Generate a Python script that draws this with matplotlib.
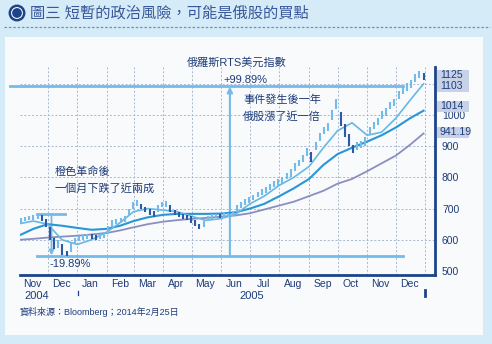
"""
RTS USD index chart, Nov 2004 - Dec 2005 (figure 3 recreation).
"""
import matplotlib
matplotlib.use("Agg")
import matplotlib.pyplot as plt
import matplotlib.patches as mpatches
import numpy as np
import pandas as pd

plt.rcParams["font.family"] = ["Liberation Sans", "Noto Sans CJK TC", "DejaVu Sans"]

# ── Data ──────────────────────────────────────────────────────────────────────
# price bars, 7 per month, Nov 2004 .. Dec 2005
bar_low = [655, 660, 662, 663, 668, 660, 640,
           600, 570, 575, 550, 547, 562, 585,
           595, 600, 604, 603, 598, 604, 607,
           620, 642, 652, 655, 658, 675, 700,
           708, 698, 688, 680, 672, 690, 705,
           706, 690, 678, 672, 668, 662, 655,
           645, 635, 642, 660, 668, 670, 669,
           671, 673, 676, 690, 703, 711, 719,
           726, 736, 742, 750, 760, 770, 772,
           778, 795, 800, 820, 835, 850, 868,
           850, 888, 918, 940, 948, 985, 1020,
           965, 930, 900, 878, 888, 893, 902,
           935, 955, 968, 988, 998, 1018, 1028,
           1052, 1068, 1078, 1088, 1106, 1120, 1112]
bar_high = [670, 672, 675, 678, 683, 680, 665,
            640, 605, 600, 585, 565, 590, 605,
            612, 615, 620, 617, 614, 620, 624,
            645, 662, 668, 670, 676, 698, 722,
            726, 716, 706, 700, 692, 712, 722,
            724, 710, 696, 690, 684, 680, 676,
            664, 652, 660, 675, 682, 684, 683,
            685, 687, 692, 710, 720, 730, 738,
            744, 754, 762, 770, 780, 790, 795,
            800, 815, 828, 845, 856, 872, 895,
            880, 912, 942, 962, 975, 1015, 1050,
            1010, 970, 940, 905, 912, 916, 928,
            962, 978, 992, 1012, 1022, 1042, 1052,
            1076, 1092, 1102, 1112, 1132, 1142, 1136]

# moving averages, sampled twice a month
ma_dates = ["2004-11-02", "2004-11-16", "2004-12-01", "2004-12-16",
            "2005-01-01", "2005-01-16", "2005-02-01", "2005-02-15",
            "2005-03-01", "2005-03-16", "2005-04-01", "2005-04-16",
            "2005-05-01", "2005-05-16", "2005-06-01", "2005-06-16",
            "2005-07-01", "2005-07-16", "2005-08-01", "2005-08-16",
            "2005-09-01", "2005-09-16", "2005-10-01", "2005-10-16",
            "2005-11-01", "2005-11-16", "2005-12-01", "2005-12-16",
            "2005-12-30"]
ma_short = [652, 660, 650, 600, 585, 600, 625, 655, 690, 700, 695, 690,
            675, 662, 668, 682, 715, 740, 775, 800, 835, 895, 950, 975,
            935, 945, 990, 1048, 1100]
ma_mid = [615, 635, 650, 645, 638, 632, 635, 645, 660, 672, 680, 683,
          683, 683, 684, 688, 700, 715, 740, 765, 795, 840, 875, 895,
          915, 935, 960, 990, 1014]
ma_long = [600, 603, 607, 610, 613, 617, 622, 630, 640, 650, 658, 663,
           667, 670, 674, 678, 685, 697, 710, 722, 740, 757, 780, 795,
           820, 845, 870, 905, 941]

month_labels = ["Nov", "Dec", "Jan", "Feb", "Mar", "Apr", "May", "Jun",
                "Jul", "Aug", "Sep", "Oct", "Nov", "Dec"]
y_ticks = [500, 600, 700, 800, 900, 1000]
end_labels = ["1125", "1103", "1014", "941.19"]

peak_2004, trough_2004, level_2005 = 683, 548, 1093

# ── Style ─────────────────────────────────────────────────────────────────────
NAVY = "#1d4489"
TXT = "#1f3c78"
LIGHT = "#74bbe8"
GRID = "#a8b6d2"
W, H = 492, 344

fig = plt.figure(figsize=(W / 100, H / 100), dpi=100)
fig.patch.set_facecolor("#d5ebf7")

# background / decoration layer in pixel coordinates
bg = fig.add_axes([0, 0, 1, 1], zorder=0)
bg.set_xlim(0, W)
bg.set_ylim(H, 0)
bg.axis("off")
bg.add_patch(mpatches.Rectangle((5, 37), 478, 298, color="#f8fafc", lw=0))
bg.plot([4, 490], [27, 27], color="#6f8fc4", lw=0.9, ls=(0, (2, 1.5)))
bg.add_patch(mpatches.Circle((17, 13), 7.2, facecolor="white",
                             edgecolor=NAVY, lw=1.8))
bg.add_patch(mpatches.Circle((17, 13), 4.2, color=NAVY))
bg.text(30, 13, "圖三 短暫的政治風險，可能是俄股的買點", fontsize=11,
        color="#39589a", va="center", ha="left")

# ── Main axes ─────────────────────────────────────────────────────────────────
ax = fig.add_axes([20 / W, (H - 275) / H, (435 - 20) / W, (275 - 67) / H],
                  zorder=1)
ax.set_facecolor("none")
x0, x1 = pd.Timestamp("2004-11-02"), pd.Timestamp("2006-01-11")
ax.set_xlim(x0, x1)
ax.set_ylim(487, 1154)

for sp in ("left", "top"):
    ax.spines[sp].set_visible(False)
for sp in ("right", "bottom"):
    ax.spines[sp].set_color(NAVY)
    ax.spines[sp].set_linewidth(2)

# grid
for v in [600, 700, 800, 900, 1000, 1100]:
    ax.axhline(v, color=GRID, lw=0.7, ls=(0, (2, 2)), zorder=1)
for d in pd.date_range("2004-12-01", "2006-01-01", freq="MS"):
    ax.axvline(d, color=GRID, lw=0.7, ls=(0, (2, 2)), zorder=1)

# moving averages
md = pd.to_datetime(ma_dates)
ax.plot(md, ma_long, color="#8a8fbf", lw=1.3, zorder=3)
ax.plot(md, ma_mid, color="#2996d6", lw=1.5, zorder=3)
ax.plot(md, ma_short, color="#66b8e6", lw=1.2, zorder=3)

# price bars
bar_dates = pd.date_range("2004-11-03", "2005-12-30", periods=len(bar_low))
mids = (np.array(bar_low) + np.array(bar_high)) / 2
colors = [LIGHT if i == 0 or mids[i] >= mids[i - 1] else "#2c5aa6"
          for i in range(len(mids))]
ax.vlines(bar_dates, bar_low, bar_high, colors=colors, lw=1.5, zorder=4)

# annotation lines
ax.plot([pd.Timestamp("2004-10-22"), pd.Timestamp("2005-12-08")],
        [level_2005, level_2005], color=LIGHT, lw=2, clip_on=False, zorder=2)
ax.plot([pd.Timestamp("2004-11-20"), pd.Timestamp("2005-12-08")],
        [trough_2004, trough_2004], color=LIGHT, lw=2, zorder=2)
ax.plot([pd.Timestamp("2004-11-20"), pd.Timestamp("2004-12-19")],
        [peak_2004, peak_2004], color=LIGHT, lw=2, zorder=2)
ax.annotate("", xy=(pd.Timestamp("2004-12-05"), trough_2004 + 2),
            xytext=(pd.Timestamp("2004-12-05"), peak_2004),
            arrowprops=dict(arrowstyle="-|>", color=LIGHT, lw=1.3,
                            mutation_scale=7, shrinkA=0, shrinkB=0), zorder=2)
ax.annotate("", xy=(pd.Timestamp("2005-06-10"), level_2005 - 2),
            xytext=(pd.Timestamp("2005-06-10"), trough_2004),
            arrowprops=dict(arrowstyle="-|>", color=LIGHT, lw=1.5,
                            mutation_scale=8, shrinkA=0, shrinkB=0), zorder=2)

# axis ticks
ax.yaxis.tick_right()
ax.set_yticks(y_ticks)
ax.set_yticklabels([str(v) for v in y_ticks])
ax.tick_params(axis="y", length=0, pad=5, labelsize=7.5, labelcolor=TXT)
mid_months = [d + pd.Timedelta(days=14)
              for d in pd.date_range("2004-11-01", "2005-12-01", freq="MS")]
ax.set_xticks(mid_months)
ax.set_xticklabels(month_labels)
ax.tick_params(axis="x", length=0, pad=3, labelsize=7.5, labelcolor=TXT)

# ── Texts in pixel coordinates ────────────────────────────────────────────────
ov = fig.add_axes([0, 0, 1, 1], zorder=5)
ov.set_xlim(0, W)
ov.set_ylim(H, 0)
ov.axis("off")
ov.patch.set_visible(False)

ov.text(237, 63, "俄羅斯RTS美元指數", fontsize=8, color=TXT, ha="center", va="center")
ov.text(245, 80, "+99.89%", fontsize=8, color=TXT, ha="center", va="center")
ov.text(243, 100, "事件發生後一年", fontsize=8, color=TXT, va="center")
ov.text(243, 116, "俄股漲了近一倍", fontsize=8, color=TXT, va="center")
ov.text(55, 172, "橙色革命後", fontsize=8, color=TXT, va="center")
ov.text(55, 188, "一個月下跌了近兩成", fontsize=8, color=TXT, va="center")
ov.text(49, 264, "-19.89%", fontsize=8, color=TXT, va="center")

# end-of-series labels on the right axis
for lab, ypx in zip(end_labels, [75, 86, 106, 132]):
    ov.add_patch(mpatches.Rectangle((437, ypx - 5.5), 32, 11,
                                    color="#c7d1e8", lw=0, zorder=1))
    ov.text(440, ypx, lab, fontsize=7.5, color=TXT, va="center", zorder=2)

# year row
ov.text(37, 296, "2004", fontsize=8, color=TXT, ha="center", va="center")
ov.text(252, 296, "2005", fontsize=8, color=TXT, ha="center", va="center")
ov.plot([78, 78], [291, 295], color=NAVY, lw=0.9)
ov.plot([425, 425], [290, 296], color=NAVY, lw=2)

ov.text(20, 312, "資料來源：Bloomberg；2014年2月25日", fontsize=6.5,
        color=TXT, va="center")

fig.savefig("out.png", dpi=100)
